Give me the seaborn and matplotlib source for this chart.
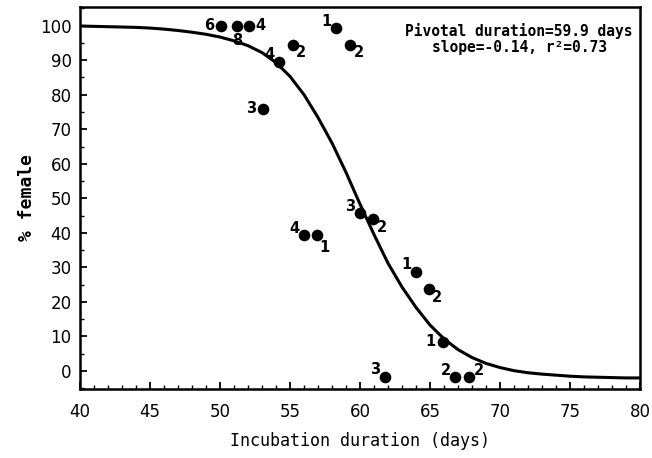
import numpy as np
import pandas as pd
import matplotlib
matplotlib.use("Agg")
import matplotlib.pyplot as plt
from matplotlib.ticker import MultipleLocator
import seaborn as sns

# observed nests: incubation duration (days), % female, sample size label
duration = [50.1, 51.2, 52.1, 58.3, 55.2, 59.3, 54.2, 53.1, 60.0, 60.95,
            56.0, 56.95, 64.0, 64.9, 65.9, 61.8, 66.8, 67.8]
pct_female = [100, 100, 100, 99.3, 94.5, 94.5, 89.5, 75.9, 45.7, 43.9,
              39.4, 39.4, 28.8, 23.8, 8.5, -1.6, -1.8, -1.8]
n_label = ["6", "8", "4", "1", "2", "2", "4", "3", "3", "2",
           "4", "1", "1", "2", "1", "3", "2", "2"]
label_side = ["l", "b", "r", "ul", "lr", "lr", "ul", "l", "ul", "lr",
              "ul", "br", "ul", "lr", "l", "ul", "ul", "ur"]

# fitted logistic curve
curve_x = list(range(40, 81))
curve_y = [99.9, 99.8, 99.7, 99.6, 99.5, 99.3, 99.0, 98.6, 98.1, 97.5,
           96.7, 95.6, 94.2, 92.2, 89.3, 85.3, 80.0, 73.4, 66.0, 57.5,
           48.3, 39.5, 31.2, 24.3, 18.4, 13.3, 9.3, 6.2, 3.9, 2.2,
           1.0, 0.1, -0.5, -0.9, -1.2, -1.5, -1.7, -1.8, -1.9, -2.0, -2.0]

pts = pd.DataFrame({"duration": duration, "female": pct_female})
fit = pd.DataFrame({"duration": curve_x, "female": curve_y})

sns.set_style("ticks")
plt.rcParams['font.family'] = ['DejaVu Sans']
plt.rcParams.update({"text.color": "black", "axes.labelcolor": "black",
                     "axes.edgecolor": "black", "xtick.color": "black",
                     "ytick.color": "black"})

fig = plt.figure(figsize=(6.52, 4.58), dpi=100)
ax = fig.add_axes([0.1227, 0.1507, 0.859, 0.834])

sns.lineplot(data=fit, x="duration", y="female", color="black", linewidth=2.2, ax=ax)
sns.scatterplot(data=pts, x="duration", y="female", color="black", s=70,
                edgecolor="black", linewidth=0, ax=ax, zorder=3)

# where each sample-size number sits relative to its dot (points)
offsets = {"l": (-9, 0), "r": (8, 0), "b": (0, -11), "ul": (-7, 5),
           "lr": (6, -6), "ur": (7, 5), "br": (5, -9)}
for x, y, lab, side in zip(duration, pct_female, n_label, label_side):
    ax.annotate(lab, (x, y), xytext=offsets[side], textcoords="offset points",
                ha="center", va="center", fontsize=10.5, fontweight="bold")

ax.set_xlim(40, 80)
ax.set_ylim(-5.2, 105.4)
ax.xaxis.set_major_locator(MultipleLocator(5))
ax.xaxis.set_minor_locator(MultipleLocator(1))
ax.yaxis.set_major_locator(MultipleLocator(10))
ax.yaxis.set_minor_locator(MultipleLocator(5))
ax.tick_params(which="major", direction="in", length=5, width=1.3, labelsize=12, pad=6)
ax.tick_params(axis="x", which="major", pad=10)
ax.tick_params(which="minor", direction="in", length=3, width=1)
for s in ax.spines.values():
    s.set_linewidth(1.8)
    s.set_visible(True)

ax.set_xlabel("Incubation duration (days)", family="DejaVu Sans Mono", fontsize=12, labelpad=8)
ax.set_ylabel("% female", family="DejaVu Sans Mono", fontweight="bold", fontsize=13, labelpad=3)

ax.text(0.784, 0.958, "Pivotal duration=59.9 days\nslope=-0.14, r\u00b2=0.73",
        transform=ax.transAxes, ha="center", va="top", family="DejaVu Sans Mono",
        fontweight="bold", fontsize=10.5, linespacing=1.1)

fig.savefig("out.png", dpi=100)
